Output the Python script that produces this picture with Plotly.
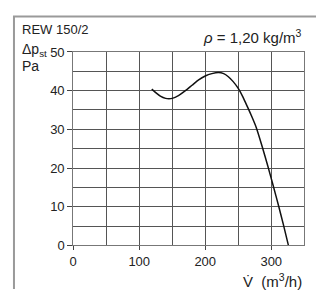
import plotly.graph_objects as go

# Data
flow = [119, 125, 132, 140, 145, 150, 160, 170, 180, 190, 200, 210, 220, 228, 235, 242, 250, 257, 264, 270, 277, 286, 295, 303, 311, 318.5, 326]
pressure = [40.4, 39.5, 38.6, 38.0, 37.9, 38.0, 38.8, 40.0, 41.4, 42.8, 43.8, 44.4, 44.7, 44.4, 43.6, 42.4, 40.6, 38.4, 35.8, 33.5, 30.6, 25.7, 20.4, 15.4, 10.3, 5.3, 0.0]
x_ticks = [0, 100, 200, 300]
y_ticks = [0, 10, 20, 30, 40, 50]

OFF = 8  # default page body margin
W, H = 324 - OFF, 297 - OFF
# plot area in page pixels
PL, PR, PT, PB = 70, 304, 47, 251


def fx(x):
    # page pixel x -> figure fraction
    return (x - OFF) / W


def fy(y):
    # page pixel y -> figure fraction (from bottom)
    return (H - (y - OFF)) / H


FONT = "Liberation Sans, Arial, sans-serif"
TXT = "#222"

fig = go.Figure()

fig.add_trace(go.Scatter(x=flow, y=pressure, mode="lines",
                         line=dict(color="#111", width=1.5, shape="spline", smoothing=0.6),
                         hoverinfo="skip", showlegend=False))

# frame (left and top border) drawn in a full-figure overlay subplot, in pixel units
fig.add_trace(go.Scatter(x=[2, 2, 340], y=[320, 1.5, 1.5], mode="lines",
                         line=dict(color="#9a9a9a", width=2),
                         xaxis="x2", yaxis="y2", hoverinfo="skip", showlegend=False))

axis_common = dict(showgrid=True, gridcolor="#555", gridwidth=1, zeroline=False,
                   showline=True, linecolor="#777", linewidth=1, mirror=True,
                   ticks="outside", tickcolor="#444", tickwidth=1,
                   tickfont=dict(family=FONT, size=13, color=TXT))

fig.update_layout(
    xaxis=dict(domain=[fx(PL), fx(PR)], range=[0, 350], tickvals=x_ticks, ticklen=4,
               minor=dict(dtick=50, tick0=0, showgrid=True, gridcolor="#555", gridwidth=1, ticks=""),
               **axis_common),
    yaxis=dict(domain=[fy(PB), fy(PT)], range=[0, 50], tickvals=y_ticks, ticklen=5,
               minor=dict(dtick=5, tick0=0, showgrid=True, gridcolor="#555", gridwidth=1, ticks=""),
               **axis_common),
    xaxis2=dict(domain=[0, 1], range=[0, W], visible=False, fixedrange=True),
    yaxis2=dict(domain=[0, 1], range=[H, 0], visible=False, fixedrange=True),
)

annotations = [
    dict(text="REW 150/2", x=fx(16), y=fy(23), xanchor="left", size=13),
    dict(text="Δp<sub>st</sub>", x=fx(16), y=fy(45), xanchor="left", size=14),
    dict(text="Pa", x=fx(16), y=fy(62), xanchor="left", size=14),
    dict(text="<i>ρ</i> = 1,20 kg/m<sup>3</sup>", x=fx(304), y=fy(31), xanchor="right", size=15),
    dict(text="V̇  (m<sup>3</sup>/h)", x=fx(304), y=fy(288), xanchor="right", size=15),
]
for a in annotations:
    fig.add_annotation(text=a["text"], x=a["x"], y=a["y"], xref="paper", yref="paper",
                       xanchor=a["xanchor"], yanchor="middle", showarrow=False,
                       font=dict(family=FONT, size=a["size"], color=TXT))

fig.update_layout(width=W, height=H, margin=dict(l=0, r=0, t=0, b=0),
                  paper_bgcolor="white", plot_bgcolor="rgba(0,0,0,0)", showlegend=False)

fig.write_html("out.html")
